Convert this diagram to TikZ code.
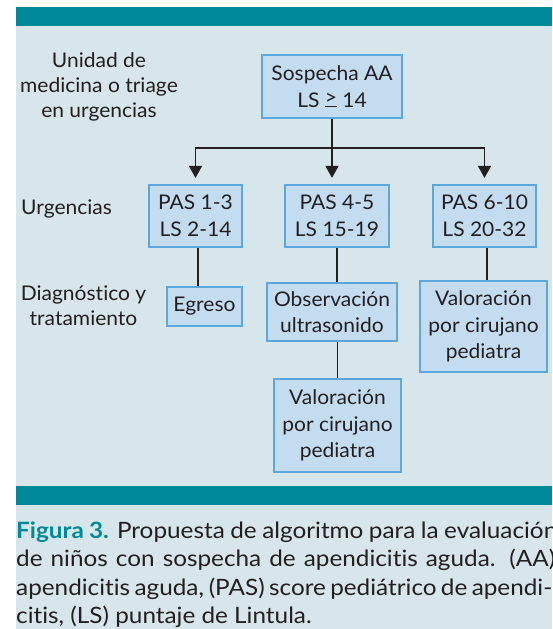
\documentclass[tikz,border=0pt]{standalone}
\usepackage{fontspec}
\setmainfont{Lato}[FakeStretch=1.04,Ligatures=CommonOff]
\newfontfamily\capfont{Lato}[FakeStretch=1.08,Ligatures=CommonOff]
\usetikzlibrary{arrows.meta}
\definecolor{tealbar}{RGB}{0,137,152}
\definecolor{bgc}{RGB}{214,230,234}
\definecolor{boxfill}{RGB}{196,220,240}
\definecolor{boxline}{RGB}{92,168,220}
\definecolor{ink}{RGB}{35,31,32}
\newcommand\myge{\mbox{\setbox0\hbox{>}\rlap{\rule{\wd0}{0.9pt}}\raisebox{2.6pt}{\box0}}}
\pgfdeclarelayer{bglayer}
\pgfdeclarelayer{connlayer}
\pgfsetlayers{bglayer,connlayer,main}
\begin{document}
\begin{tikzpicture}[x=1pt,y=-1pt,
  box/.style={draw=boxline, fill=boxfill, line width=2.2pt, align=center, inner sep=0pt, text=ink, font=\fontsize{20.2}{26.5}\selectfont},
  lbl/.style={align=center, text=ink, inner sep=0pt, font=\fontsize{20.2}{25}\selectfont},
  conn/.style={draw=ink, line width=1.4pt},
  arr/.style={conn, -{Triangle[width=13pt,length=12pt]}, shorten >=6pt},
  captxt/.style={anchor=base west, inner sep=0pt, text=ink, font=\capfont\fontsize{22.5}{28}\selectfont}]
\useasboundingbox (0,0) rectangle (552,629);
\begin{pgfonlayer}{bglayer}
\fill[white] (0,0) rectangle (552,629);
\fill[bgc] (16,7) rectangle (552,629);
\fill[tealbar] (16,7) rectangle (552,26);
\fill[tealbar] (16,486) rectangle (552,505);
\end{pgfonlayer}

\node[box, minimum width=140pt, minimum height=63pt] (top) at (332,86.5) {Sospecha AA\\LS \myge\ 14};
\node[box, minimum width=93pt, minimum height=62pt] (p1) at (195.5,216) {PAS 1-3\\LS 2-14};
\node[box, minimum width=104pt, minimum height=62pt] (p2) at (337,216) {PAS 4-5\\LS 15-19};
\node[box, minimum width=103pt, minimum height=62pt] (p3) at (484.5,216) {PAS 6-10\\LS 20-32};
\node[box, minimum width=75pt, minimum height=39pt] (eg) at (204.5,306.5) {Egreso};
\node[box, minimum width=130pt, minimum height=58pt] (obs) at (332,312) {Observación\\ultrasonido};
\node[box, minimum width=127pt, minimum height=93pt] (v2) at (337.5,425.5) {Valoración\\por cirujano\\pediatra};
\node[box, minimum width=127pt, minimum height=91pt] (v3) at (483.5,326.5) {Valoración\\por cirujano\\pediatra};

\node[lbl] (l1) at (99,87) {Unidad de\\medicina o triage\\en urgencias};
\node[lbl, anchor=west] (l2) at (21,209) {Urgencias};
\node[lbl] (l3) at (83.5,306) {Diagnóstico y\\tratamiento};

\coordinate (jn) at (332,148);
\begin{pgfonlayer}{connlayer}
\draw[conn] (top.south) -- (jn);
\draw[conn, line cap=rect] (jn -| p1.north) -- (jn -| p3.north);
\draw[arr] (jn -| p1.north) -- (p1.north);
\draw[arr] (jn) -- (jn |- p2.north);
\draw[arr] (jn -| p3.north) -- (p3.north);
\draw[conn] ([xshift=2.5pt]p1.south) -- ([xshift=2.5pt]p1.south |- eg.north);
\draw[conn] (p2.south) -- (p2.south |- obs.north);
\draw[conn] (v2.north |- obs.south) -- (v2.north);
\draw[conn] ([xshift=2.5pt]p3.south) -- ([xshift=2.5pt]p3.south |- v3.north);
\end{pgfonlayer}

\node[captxt] (c1) at (16,538) {\makebox[541pt][s]{\textcolor{tealbar}{\bfseries Figura 3.} Propuesta de algoritmo para la evaluación}};
\node[captxt] (c2) at (16,566.5) {\makebox[539pt][s]{de niños con sospecha de apendicitis aguda. (AA)}};
\node[captxt] (c3) at (16,595) {\makebox[536pt][s]{apendicitis aguda, (PAS) score pediátrico de apendi-}};
\node[captxt] (c4) at (16,623) {citis, (LS) puntaje de Lintula.};
\end{tikzpicture}
\end{document}
